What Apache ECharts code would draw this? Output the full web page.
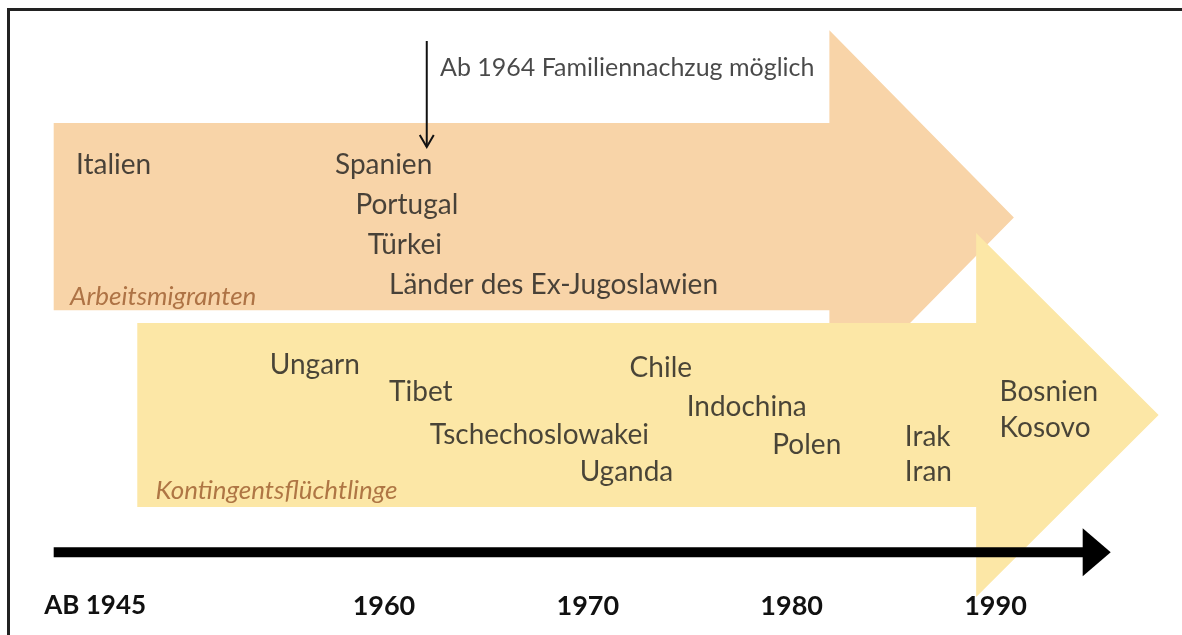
<!DOCTYPE html>
<html>
<head>
<meta charset="utf-8">
<title>Migration Zeitachse</title>
<script src="https://cdn.jsdelivr.net/npm/echarts@6/dist/echarts.min.js"></script>
<style>
  html, body {
    margin: 0;
    padding: 0;
    background: #ffffff;
    overflow: hidden;
  }
  .frame {
    position: absolute;
    left: 7px;
    top: 8px;
    width: 1300px;
    height: 800px;
    border-top: 3px solid #222;
    border-left: 3px solid #222;
  }
  #chart {
    position: absolute;
    left: 0;
    top: 0;
    width: 1182px;
    height: 635px;
  }
</style>
</head>
<body>
<div class="frame"></div>
<div id="chart"></div>
<script>
  // Zeitachse
  const tickYears = [1945, 1960, 1970, 1980, 1990];
  const tickLabels = ['AB 1945', '1960', '1970', '1980', '1990'];

  // Pfeile (Zeitraum in Jahren, Zeilen für Höhe)
  const arrowNames = ['Arbeitsmigranten', 'Kontingentsflüchtlinge'];
  const arrowStart = [1943.8, 1947.9];
  const arrowBodyEnd = [1981.85, 1989.05];
  const arrowTip = [1990.9, 1998.0];
  const arrowTop = [2.95, 7.95];
  const arrowBottom = [7.63, 12.55];
  const arrowHeadTop = [0.63, 5.7];
  const arrowHeadBottom = [10.0, 14.8];
  const arrowLabelYear = [1944.6, 1948.8];
  const arrowLabelRow = [7.28, 12.13];

  // Arbeitsmigranten
  const workCountries = ['Italien', 'Spanien', 'Portugal', 'Türkei', 'Länder des Ex-Jugoslawien'];
  const workYears = [1944.9, 1957.6, 1958.6, 1959.2, 1960.25];
  const workRows = [4, 4, 5, 6, 7];

  // Kontingentsflüchtlinge
  const refugeeCountries = ['Ungarn', 'Tibet', 'Tschechoslowakei', 'Uganda', 'Chile', 'Indochina', 'Polen', 'Irak', 'Iran', 'Bosnien', 'Kosovo'];
  const refugeeYears = [1954.4, 1960.25, 1962.25, 1969.6, 1972.05, 1974.85, 1979.05, 1985.55, 1985.55, 1990.2, 1990.2];
  const refugeeRows = [9.0, 9.68, 10.75, 11.68, 9.08, 10.05, 11.0, 10.8, 11.68, 9.68, 10.58];

  // Familiennachzug
  const noteText = 'Ab 1964 Familiennachzug möglich';
  const noteYear = 1962.1;
  const noteRowFrom = 0.9;
  const noteRowTo = 3.55;

  // Zeitstrahl
  const timelineStart = 1943.8;
  const timelineEnd = 1995.65;
  const timelineRow = 13.68;

  const arrowColors = ['#f8d4a8', '#fce7a6'];
  const textFont = 'Lato, "Noto Sans", sans-serif';

  const myChart = echarts.init(document.getElementById('chart'));

  const arrowData = arrowNames.map((n, i) => [arrowStart[i], arrowBodyEnd[i], arrowTip[i], arrowTop[i], arrowBottom[i], arrowHeadTop[i], arrowHeadBottom[i]]);

  function renderArrow(params, api) {
    const x0 = api.value(0), x1 = api.value(1), x2 = api.value(2);
    const yt = api.value(3), yb = api.value(4), ht = api.value(5), hb = api.value(6);
    const ym = (ht + hb) / 2;
    const pts = [
      api.coord([x0, yt]), api.coord([x1, yt]), api.coord([x1, ht]),
      api.coord([x2, ym]), api.coord([x1, hb]), api.coord([x1, yb]), api.coord([x0, yb])
    ];
    return {
      type: 'polygon',
      shape: {points: pts},
      style: {fill: arrowColors[params.dataIndex]}
    };
  }

  function renderTimeline(params, api) {
    const a = api.coord([api.value(0), api.value(2)]);
    const b = api.coord([api.value(1), api.value(2)]);
    const headLen = 28;
    const headHalf = 24;
    return {
      type: 'group',
      children: [
        {
          type: 'line',
          shape: {x1: a[0], y1: a[1], x2: b[0] - headLen + 2, y2: b[1]},
          style: {stroke: '#000', lineWidth: 10}
        },
        {
          type: 'polygon',
          shape: {points: [[b[0] - headLen, b[1] - headHalf], [b[0], b[1]], [b[0] - headLen, b[1] + headHalf]]},
          style: {fill: '#000'}
        }
      ]
    };
  }

  function renderNote(params, api) {
    const a = api.coord([api.value(0), api.value(1)]);
    const b = api.coord([api.value(0), api.value(2)]);
    return {
      type: 'group',
      children: [
        {
          type: 'line',
          shape: {x1: a[0], y1: a[1], x2: b[0], y2: b[1]},
          style: {stroke: '#111', lineWidth: 2}
        },
        {
          type: 'polyline',
          shape: {points: [[b[0] - 7, b[1] - 12], [b[0], b[1]], [b[0] + 7, b[1] - 12]]},
          style: {stroke: '#111', lineWidth: 2, fill: null}
        }
      ]
    };
  }

  function textSeries(names, xs, ys, style) {
    return {
      type: 'scatter',
      symbolSize: 0,
      silent: true,
      z: 5,
      data: names.map((n, i) => ({name: n, value: [xs[i], ys[i]]})),
      label: Object.assign({
        show: true,
        position: 'right',
        distance: 0,
        formatter: '{b}',
        fontFamily: textFont,
        fontSize: 28,
        color: '#1c1c1c'
      }, style)
    };
  }

  const chartOption = {
    animation: false,
    backgroundColor: 'transparent',
    grid: {left: 17, right: 3, top: 5, bottom: 52},
    xAxis: {
      type: 'value',
      min: 1942,
      max: 1999,
      splitLine: {show: false},
      axisLine: {show: false},
      axisTick: {show: false},
      axisLabel: {
        customValues: tickYears,
        margin: 10,
        fontFamily: textFont,
        fontWeight: 'bold',
        fontSize: 27,
        color: '#111',
        formatter: v => {
          const lab = tickLabels[tickYears.indexOf(v)];
          return v === tickYears[0] ? '{first|' + lab + '}' : lab;
        },
        rich: {
          first: {
            padding: [0, 0, 0, 34],
            fontFamily: textFont,
            fontWeight: 'bold',
            fontSize: 26,
            color: '#111'
          }
        }
      }
    },
    yAxis: {
      type: 'value',
      inverse: true,
      min: 0,
      max: 14.45,
      show: false
    },
    series: [
      {
        type: 'custom',
        renderItem: renderArrow,
        clip: false,
        silent: true,
        z: 1,
        data: arrowData
      },
      {
        type: 'custom',
        renderItem: renderTimeline,
        clip: false,
        silent: true,
        z: 3,
        data: [[timelineStart, timelineEnd, timelineRow]]
      },
      {
        type: 'custom',
        renderItem: renderNote,
        clip: false,
        silent: true,
        z: 3,
        data: [[noteYear, noteRowFrom, noteRowTo]]
      },
      textSeries(workCountries, workYears, workRows, {}),
      textSeries(refugeeCountries, refugeeYears, refugeeRows, {}),
      textSeries(arrowNames, arrowLabelYear, arrowLabelRow, {fontStyle: 'italic', fontSize: 26, color: '#9b5a2c'}),
      textSeries([noteText], [noteYear + 0.65], [1.58], {fontSize: 25, color: '#1c1c1c'})
    ]
  };

  myChart.setOption(chartOption);
</script>
</body>
</html>
